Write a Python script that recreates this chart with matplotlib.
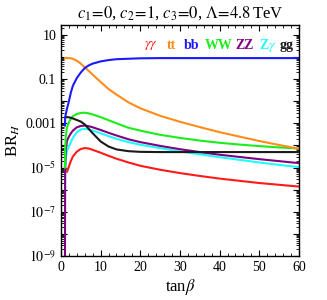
import numpy as np
import matplotlib
matplotlib.use("Agg")
import matplotlib.pyplot as plt
from matplotlib.ticker import FixedLocator, LogLocator, MultipleLocator, NullFormatter

plt.rcParams['font.family'] = ['Liberation Serif', 'DejaVu Serif']
plt.rcParams['mathtext.fontset'] = 'stix'

# tan(beta) sample points
tan_beta = [1.0, 1.05, 1.2, 1.5, 2, 2.5, 3, 4, 5, 6, 7, 8, 10, 12, 14, 17,
            20, 25, 30, 35, 40, 45, 50, 55, 60]

# log10(BR)
log_br_aa = [-5.0, -5.05, -5.12, -5.2, -4.95, -4.7, -4.5, -4.28, -4.16, -4.12, -4.14, -4.2,
             -4.33, -4.47, -4.6, -4.77, -4.92, -5.1, -5.25, -5.38, -5.5, -5.6, -5.7, -5.78, -5.86]
log_br_tt = [-0.05, -0.05, -0.05, -0.05, -0.05, -0.06, -0.08, -0.17, -0.3, -0.47, -0.63, -0.8,
             -1.13, -1.45, -1.7, -2.05, -2.32, -2.66, -2.93, -3.17, -3.4, -3.6, -3.8, -3.98, -4.15]
log_br_bb = [-3.1, -2.75, -2.6, -2.35, -2.0, -1.6, -1.3, -0.95, -0.7, -0.5, -0.38, -0.3,
             -0.2, -0.14, -0.1, -0.08, -0.06, -0.05, -0.05, -0.05, -0.05, -0.05, -0.05, -0.05, -0.05]
log_br_ww = [-5.0, -4.2, -3.6, -3.2, -2.95, -2.8, -2.68, -2.58, -2.53, -2.52, -2.55, -2.6,
             -2.72, -2.86, -3.0, -3.2, -3.33, -3.52, -3.66, -3.78, -3.88, -3.96, -4.03, -4.09, -4.14]
log_br_zz = [-10.0, -5.0, -4.2, -3.8, -3.6, -3.45, -3.33, -3.18, -3.12, -3.1, -3.13, -3.18,
             -3.3, -3.43, -3.55, -3.72, -3.85, -4.02, -4.17, -4.3, -4.42, -4.52, -4.62, -4.71, -4.8]
log_br_za = [-6.4, -5.2, -4.6, -4.25, -4.05, -3.85, -3.65, -3.4, -3.28, -3.25, -3.28, -3.33,
             -3.45, -3.58, -3.7, -3.85, -3.97, -4.12, -4.27, -4.4, -4.53, -4.65, -4.77, -4.88, -4.98]
log_br_gg = [-2.75, -2.73, -2.72, -2.72, -2.73, -2.75, -2.78, -2.85, -2.92, -3.05, -3.25, -3.45,
             -3.82, -4.05, -4.18, -4.26, -4.29, -4.3, -4.3, -4.3, -4.3, -4.3, -4.3, -4.3, -4.3]

channels = [r'$\gamma\gamma$', 'tt', 'bb', 'WW', 'ZZ', r'Z$\gamma$', 'gg']
colors = ['#ff1a1a', '#ff8c1a', '#1a1aff', '#1aee1a', '#800080', '#1affff', '#1a1a1a']
series = [log_br_aa, log_br_tt, log_br_bb, log_br_ww, log_br_zz, log_br_za, log_br_gg]

fig = plt.figure(figsize=(3.27, 3.0), dpi=100)
ax = fig.add_axes([0.1865, 0.1467, 0.7275, 0.77])

# draw in an order so bb/tt sit on top
for i in [0, 5, 4, 3, 6, 1, 2]:
    ax.plot(tan_beta, 10.0 ** np.array(series[i]), color=colors[i], lw=1.5)

ax.set_yscale('log')
ax.set_xlim(0, 60)
ax.set_ylim(1e-9, 28)

decades = [10.0 ** k for k in range(-9, 2)]
ylabels = []
for k in range(-9, 2):
    if k == 1:
        ylabels.append('10')
    elif k == -1:
        ylabels.append('0.1')
    elif k == -3:
        ylabels.append('0.001')
    elif k % 2 == 1:
        ylabels.append(r'$10^{%d}$' % k)
    else:
        ylabels.append('')
ax.yaxis.set_major_locator(FixedLocator(decades))
ax.set_yticklabels(ylabels)
ax.yaxis.set_minor_locator(LogLocator(base=10, subs=np.arange(2, 10), numticks=30))
ax.yaxis.set_minor_formatter(NullFormatter())

ax.xaxis.set_major_locator(MultipleLocator(10))
ax.xaxis.set_minor_locator(MultipleLocator(2))

ax.tick_params(which='both', direction='in', top=True, right=True, labelsize=10)
ax.tick_params(which='major', length=4, width=0.8)
ax.tick_params(which='minor', length=2, width=0.6)
for sp in ax.spines.values():
    sp.set_linewidth(1.0)

ax.set_xlabel(r'tan$\beta$', fontsize=12, labelpad=2)
ax.set_ylabel(r'BR$_H$', fontsize=12, labelpad=2)
ax.set_title(r'$c_1\!=\!0$, $c_2\!=\!1$, $c_3\!=\!0$, $\Lambda\!=\!4.8\,$TeV',
             fontsize=12, pad=5)

# channel labels along the top
label_x = [151, 172, 192, 219, 245, 268, 287]
for name, c, px in zip(channels, colors, label_x):
    ax.text((px - 61) / 238 * 60, 3.2, name, color=c, fontsize=10,
            fontweight='bold', ha='center', va='center')

fig.savefig('out.png', dpi=100)
